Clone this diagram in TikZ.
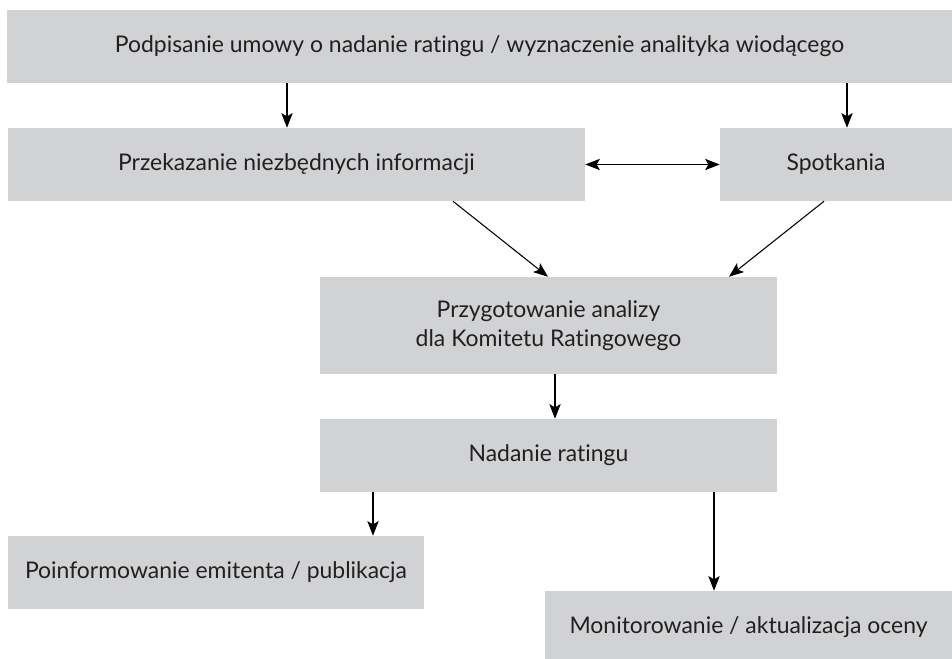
\documentclass[tikz,border=0pt]{standalone}
\usepackage{fontspec}
\setmainfont{Lato}[Ligatures={NoCommon,NoRare,NoContextual}]
\usetikzlibrary{arrows.meta}
\definecolor{boxgray}{HTML}{D1D2D4}
\definecolor{inkgray}{HTML}{231F20}
\begin{document}
\begin{tikzpicture}[x=0.75pt,y=-0.75pt,
  stepbox/.style={fill=boxgray, draw=none, rectangle, inner sep=0pt,
    text=inkgray, align=center, font=\fontsize{17.2}{21.75}\selectfont},
  arr/.style={draw=black, line width=0.8pt,
    -{Stealth[length=11pt,width=8.5pt,inset=2.5pt]}},
  darr/.style={draw=black, line width=0.8pt,
    {Stealth[length=11pt,width=8.5pt,inset=2.5pt]}-{Stealth[length=11pt,width=8.5pt,inset=2.5pt]}}]
\clip (0,0) rectangle (952,659);
\fill[white] (0,0) rectangle (952,659);

% process steps
\node[stepbox, minimum width=945*0.75pt, minimum height=73*0.75pt] (b1) at (479.5,46.5)
  {Podpisanie umowy o nadanie ratingu / wyznaczenie analityka wiodącego};
\node[stepbox, minimum width=577*0.75pt, minimum height=73*0.75pt] (b2) at (296.5,164.5)
  {Przekazanie niezbędnych informacji};
\node[stepbox, minimum width=232*0.75pt, minimum height=73*0.75pt] (b3) at (836,164.5)
  {Spotkania};
\node[stepbox, minimum width=457*0.75pt, minimum height=97*0.75pt] (b4) at (548.5,325.5)
  {Przygotowanie analizy\\dla Komitetu Ratingowego};
\node[stepbox, minimum width=457*0.75pt, minimum height=73*0.75pt] (b5) at (548.5,455.5)
  {Nadanie ratingu};
\node[stepbox, minimum width=416*0.75pt, minimum height=73*0.75pt] (b6) at (216,572.5)
  {Poinformowanie emitenta / publikacja};
\node[stepbox, minimum width=407*0.75pt, minimum height=73*0.75pt] (b7) at (748.5,627.5)
  {Monitorowanie / aktualizacja oceny};

% flow between steps
\draw[arr] (b1.south -| 287,0) -- (b2.north -| 287,0);
\draw[arr] (b1.south -| 847,0) -- (b3.north -| 847,0);
\draw[darr] (b2.east) -- (b3.west);
\draw[arr] (b2.south -| 453,0) -- (b4.north -| 548,0);
\draw[arr] (b3.south -| 824,0) -- (b4.north -| 729,0);
\draw[arr] (b4.south -| 555,0) -- (b5.north -| 555,0);
\draw[arr] (b5.south -| 373,0) -- (b6.north -| 373,0);
\draw[arr] (b5.south -| 714,0) -- (b7.north -| 714,0);
\end{tikzpicture}
\end{document}
